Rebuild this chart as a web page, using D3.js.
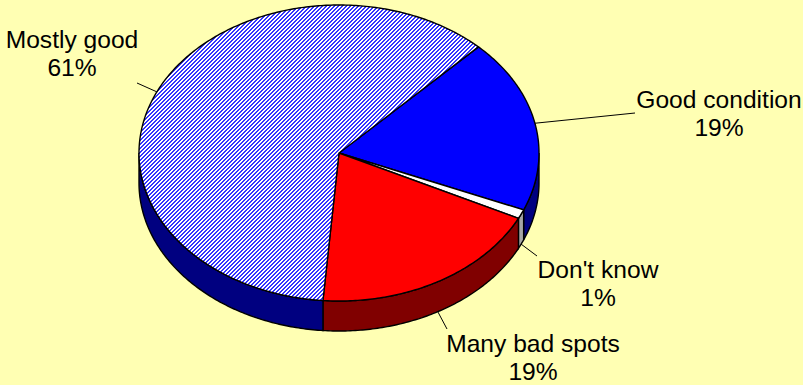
<!DOCTYPE html>
<html>
<head>
<meta charset="utf-8">
<script src="https://cdn.jsdelivr.net/npm/d3@7"></script>
<style>
  html, body { margin: 0; padding: 0; background: #ffffb3; }
  svg { display: block; }
  text { font-family: "Liberation Sans", Arial, sans-serif; font-size: 24.6px; fill: #000; }
</style>
</head>
<body>
<div id="chart"></div>
<script>
var categories = ["Good condition", "Don't know", "Many bad spots", "Mostly good"];
var shares = [19, 1, 19, 61];
var percentLabels = ["19%", "1%", "19%", "61%"];

var width = 803, height = 385;
var cx = 339, cy = 153, rx = 200, ry = 148, depth = 30;

var topColors = ["#0000ff", "#ffffff", "#ff0000", "url(#hatch)"];
var sideColors = ["#000080", "#a6a6a6", "#800000", "#000080"];

// where each label sits and where its leader line stops
var labelPos = [[719, 108], [598, 278], [533, 352], [72, 48]];
var leaderEnd = [[635, 113], [537, 256], [447, 329], [137, 83]];

var x = d3.scaleLinear().domain([-1, 1]).range([cx - rx, cx + rx]);
var y = d3.scaleLinear().domain([-1, 1]).range([cy - ry, cy + ry]);

var svg = d3.select("#chart").append("svg")
  .attr("width", width)
  .attr("height", height);

// 4px stair-step stripes rising to the right
var hatch = svg.append("defs").append("pattern")
  .attr("id", "hatch")
  .attr("patternUnits", "userSpaceOnUse")
  .attr("width", 4)
  .attr("height", 4);
hatch.append("rect").attr("width", 4).attr("height", 4).attr("fill", "#fff");
hatch.selectAll("path")
  .data(d3.range(4))
  .enter().append("path")
  .attr("d", function(k) {
    var x0 = 3 - k, x1 = (x0 + 1) % 4;
    return "M" + x0 + "," + k + "h1v1h-1Z M" + x1 + "," + k + "h1v1h-1Z";
  })
  .attr("fill", "#3333ff")
  .attr("shape-rendering", "crispEdges");

var startAngle = 44.2 * Math.PI / 180;
var arcs = d3.pie().sort(null).startAngle(startAngle).endAngle(startAngle + 2 * Math.PI)(shares);

var line = d3.line().x(function(d) { return d[0]; }).y(function(d) { return d[1]; });

function rim(a, drop) {
  return [x(Math.sin(a)), y(-Math.cos(a)) + drop];
}

function rimPoints(a0, a1, drop) {
  var n = Math.max(2, Math.ceil(Math.abs(a1 - a0) * 80));
  return d3.range(n + 1).map(function(i) { return rim(a0 + (a1 - a0) * i / n, drop); });
}

// the front wall only shows between 90 and 270 degrees
var frontFrom = Math.PI / 2, frontTo = Math.PI * 3 / 2;
arcs.forEach(function(d, i) {
  var a0 = Math.max(d.startAngle, frontFrom), a1 = Math.min(d.endAngle, frontTo);
  if (a1 <= a0) return;
  var pts = rimPoints(a0, a1, 0).concat(rimPoints(a1, a0, depth));
  svg.append("path")
    .attr("d", line(pts) + "Z")
    .attr("fill", sideColors[i])
    .attr("stroke", "#000")
    .attr("stroke-width", 1.4);
});

svg.selectAll("path.slice")
  .data(arcs)
  .enter().append("path")
  .attr("class", "slice")
  .attr("d", function(d) {
    return line([[x(0), y(0)]].concat(rimPoints(d.startAngle, d.endAngle, 0))) + "Z";
  })
  .attr("fill", function(d, i) { return topColors[i]; })
  .attr("stroke", "#000")
  .attr("stroke-width", 1.4);

// leaders start from the middle of each slice, on the wall when it faces front
svg.selectAll("line.leader")
  .data(arcs)
  .enter().append("line")
  .attr("class", "leader")
  .attr("x1", function(d) { return rim((d.startAngle + d.endAngle) / 2, 0)[0]; })
  .attr("y1", function(d) {
    var mid = (d.startAngle + d.endAngle) / 2;
    var front = mid > frontFrom + 0.1 && mid < frontTo;
    return rim(mid, front ? depth : 0)[1];
  })
  .attr("x2", function(d, i) { return leaderEnd[i][0]; })
  .attr("y2", function(d, i) { return leaderEnd[i][1]; })
  .attr("stroke", "#000")
  .attr("stroke-width", 1);

var labels = svg.selectAll("text.label")
  .data(categories)
  .enter().append("text")
  .attr("class", "label")
  .attr("text-anchor", "middle")
  .attr("x", function(d, i) { return labelPos[i][0]; })
  .attr("y", function(d, i) { return labelPos[i][1]; });

labels.append("tspan").text(function(d) { return d; });
labels.append("tspan")
  .attr("x", function(d, i) { return labelPos[i][0]; })
  .attr("dy", 28)
  .text(function(d, i) { return percentLabels[i]; });
</script>
</body>
</html>
